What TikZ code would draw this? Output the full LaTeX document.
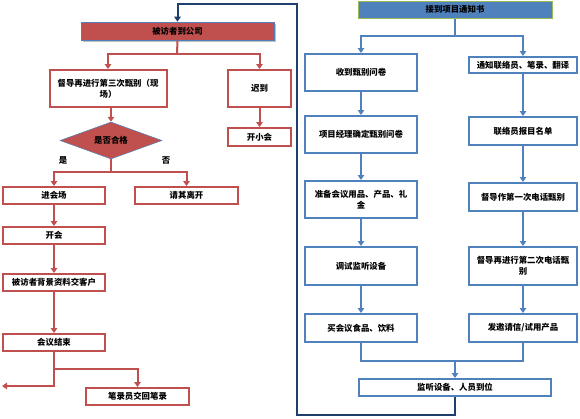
\documentclass[tikz,border=0pt]{standalone}
\usepackage{fontspec}
\newfontfamily\cjk{Noto Sans CJK SC}
\usetikzlibrary{arrows.meta,shapes.geometric}
\definecolor{rd}{HTML}{C0504D}
\definecolor{bl}{HTML}{4F81BD}
\definecolor{nv}{HTML}{1F3F6E}
\definecolor{gr}{HTML}{9BBB59}
\tikzset{
  base/.style={rectangle, inner sep=1pt, align=center, font=\cjk\bfseries\fontsize{8.4}{11}\selectfont, text=black},
  rbox/.style={base, draw=rd, line width=2pt, fill=white},
  bbox/.style={base, draw=bl, line width=2pt, fill=white},
  rcon/.style={draw=rd, line width=2pt, -{Triangle[width=6.5pt,length=5pt]}},
  rline/.style={draw=rd, line width=2pt},
  bcon/.style={draw=bl, line width=2pt, -{Triangle[width=6.5pt,length=5pt]}},
  bline/.style={draw=bl, line width=2pt},
  ncon/.style={draw=nv, line width=2pt, -{Triangle[width=6.5pt,length=5pt]}},
  lbl/.style={font=\cjk\bfseries\fontsize{8.4}{11}\selectfont, text=black, inner sep=0pt}
}
\begin{document}
\begin{tikzpicture}[x=1pt,y=-1pt]
\useasboundingbox (0,0) rectangle (580,418);
% ---- left (red) ----
\fill[black!25] (82.5,23.5) rectangle (275.5,41.5);
\node[base, fill=rd, draw=bl, line width=0.6pt, minimum width=193pt, minimum height=18pt] (top) at (177.5,31) {被访者到公司};
\node[rbox, minimum width=117pt, minimum height=37pt] (d3) at (108,88.5) {督导再进行第三次甄别（现\\场）};
\node[rbox, minimum width=63pt, minimum height=37pt] (late) at (259.5,88.5) {迟到};
\node[rbox, minimum width=63pt, minimum height=18pt] (small) at (259.5,137) {开小会};
\node[base, shape=diamond, fill=rd, draw=bl, line width=0.5pt, aspect=2.76, minimum width=102pt, minimum height=37pt, inner sep=0pt] (dia) at (111,140.5) {是否合格};
\node[lbl] (yes) at (63,160) {是};
\node[lbl] (no) at (166,160) {否};
\node[rbox, minimum width=102pt, minimum height=17pt] (enter) at (54,195.5) {进会场};
\node[rbox, minimum width=103pt, minimum height=17pt] (leave) at (186.5,195.5) {请其离开};
\node[rbox, minimum width=102pt, minimum height=17pt] (meet) at (54,235.5) {开会};
\node[rbox, minimum width=102pt, minimum height=17pt] (bg) at (54,282.5) {被访者背景资料交客户};
\node[rbox, minimum width=102pt, minimum height=17pt] (end) at (54,342.5) {会议结束};
\node[rbox, minimum width=103pt, minimum height=17pt] (notes) at (137.5,396.5) {笔录员交回笔录};
\coordinate (tj) at (177,54);
\coordinate (dj) at (111,172);
\coordinate (br) at (53,369);
\coordinate (outL) at (2,386);
\draw[rline] (top.south) -- (tj);
\draw[rcon] (tj) -| (d3.north);
\draw[rcon] (tj) -| (late.north);
\draw[rcon] (late.south) -- (small.north);
\draw[rcon] (dia.north |- d3.south) -- (dia.north);
\draw[rline] (dia.south) -- (dj);
\draw[rcon] (dj) -| (enter.north);
\draw[rcon] (dj) -| (leave.north);
\draw[rcon] (enter.south) -- (meet.north);
\draw[rcon] (meet.south) -- (bg.north);
\draw[rcon] (bg.south) -- (end.north);
\draw[rcon] (end.south) |- (outL);
\draw[rcon] (br) -| (notes.north);
% ---- right (blue) ----
\node[base, fill=bl, draw=gr, line width=1pt, minimum width=194pt, minimum height=17pt] (notify) at (455,9.5) {接到项目通知书};
\node[bbox, minimum width=112pt, minimum height=37pt] (q1) at (361,72.5) {收到甄别问卷};
\node[bbox, minimum width=108pt, minimum height=16pt] (c1) at (523,65) {通知联络员、笔录、翻译};
\node[bbox, minimum width=112pt, minimum height=37pt] (q2) at (361,134.5) {项目经理确定甄别问卷};
\node[bbox, minimum width=108pt, minimum height=28pt] (c2) at (523,131) {联络员报目名单};
\node[bbox, minimum width=112pt, minimum height=37pt] (q3) at (361,199.5) {准备会议用品、产品、礼\\金};
\node[bbox, minimum width=108pt, minimum height=28pt] (c3) at (523,197) {督导作第一次电话甄别};
\node[bbox, minimum width=112pt, minimum height=38pt] (q4) at (361,266) {调试监听设备};
\node[bbox, minimum width=108pt, minimum height=38pt] (c4) at (523,266) {督导再进行第二次电话甄\\别};
\node[bbox, minimum width=112pt, minimum height=28pt] (q5) at (361,328) {买会议食品、饮料};
\node[bbox, minimum width=108pt, minimum height=28pt] (c5) at (523,328) {发邀请信/试用产品};
\node[bbox, minimum width=192pt, minimum height=17pt] (final) at (455,387.5) {监听设备、人员到位};
\coordinate (nj) at (455,36);
\coordinate (mj) at (455,361);
\coordinate (l1) at (297,415);
\coordinate (l2) at (297,4);
\draw[bline] (notify.south) -- (nj);
\draw[bcon] (nj) -| (q1.north);
\draw[bcon] (nj) -| (c1.north);
\draw[bcon] (q1.south) -- (q2.north);
\draw[bcon] (q2.south) -- (q3.north);
\draw[bcon] (q3.south) -- (q4.north);
\draw[bcon] (q4.south) -- (q5.north);
\draw[bcon] (c1.south) -- (c2.north);
\draw[bcon] (c2.south) -- (c3.north);
\draw[bcon] (c3.south) -- (c4.north);
\draw[bcon] (c4.south) -- (c5.north);
\draw[bline] (q5.south) |- (mj) -| (c5.south);
\draw[bcon] (mj) -- (final.north);
% ---- loop back ----
\draw[ncon] (final.south) |- (l1) -- (l2) -| (top.north);
\end{tikzpicture}
\end{document}
